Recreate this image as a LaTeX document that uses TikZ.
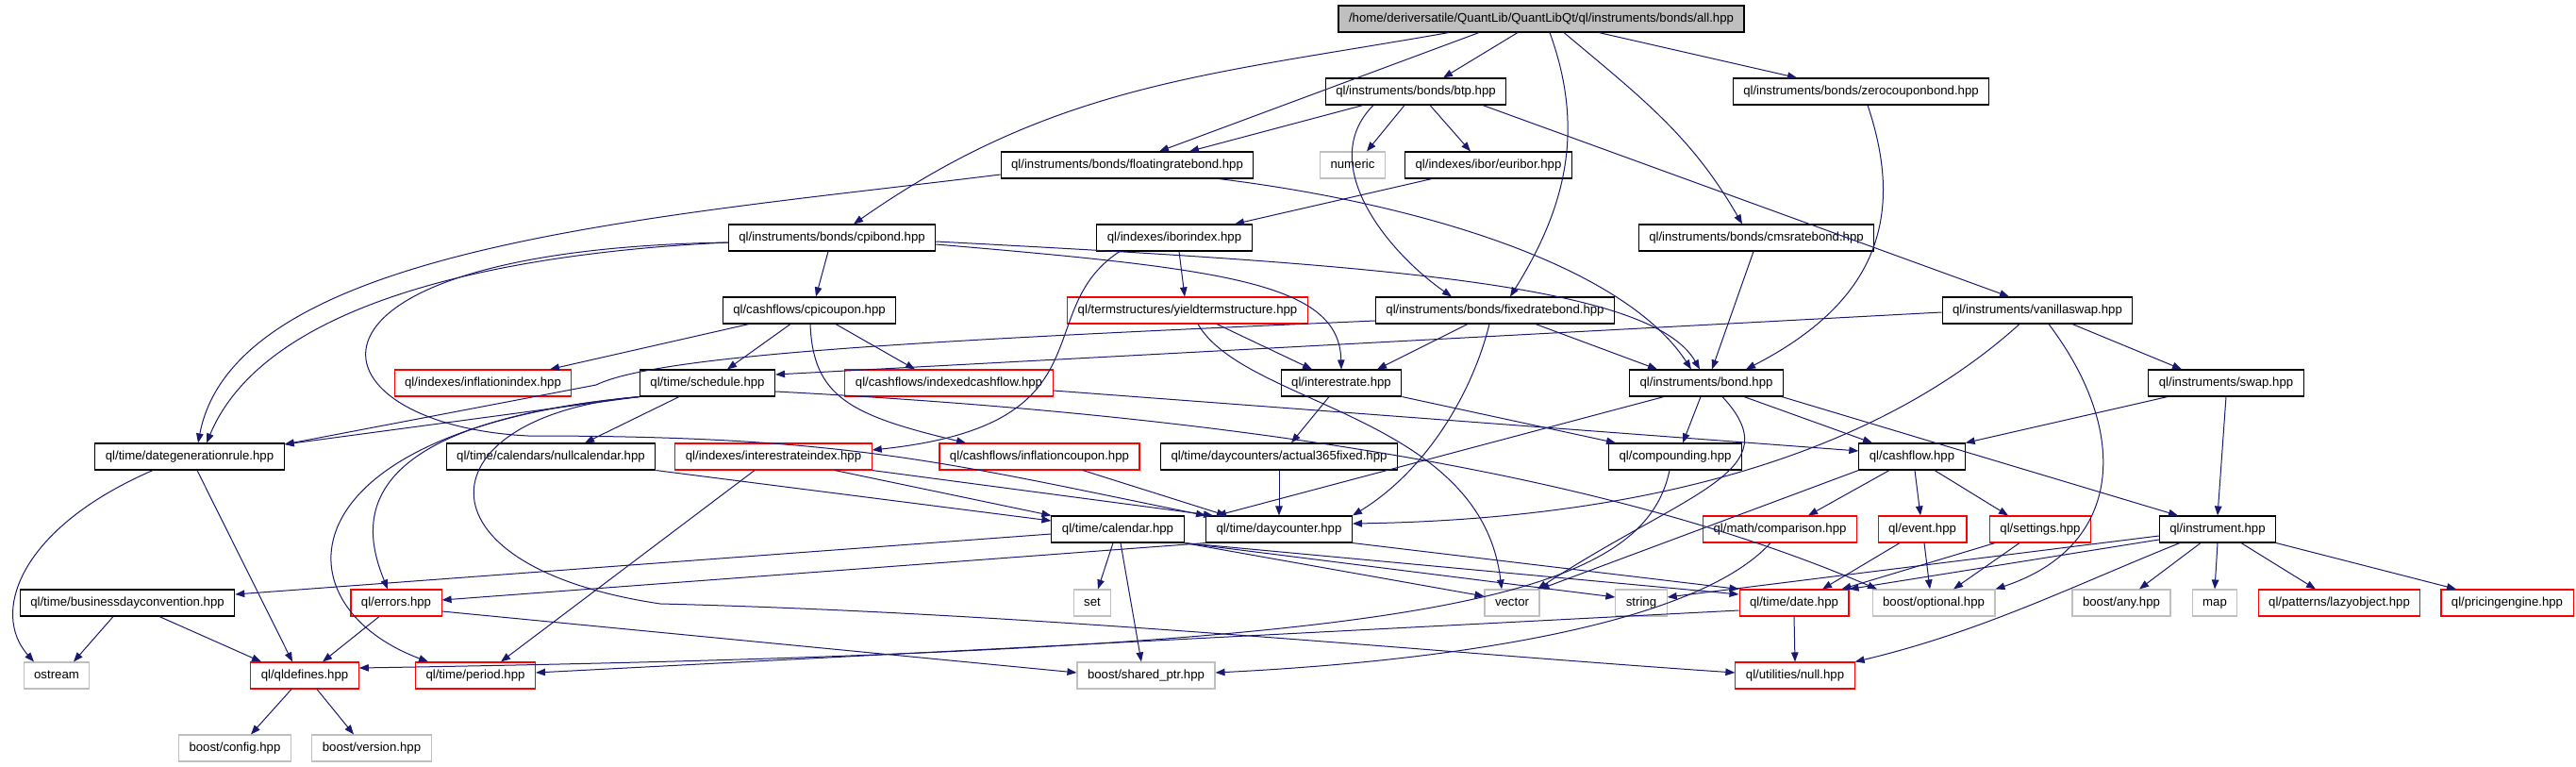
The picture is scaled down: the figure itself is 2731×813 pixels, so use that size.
\documentclass[tikz,border=0pt]{standalone}
\usepackage{fontspec}
\setmainfont{Liberation Sans}
\usetikzlibrary{arrows.meta}
\definecolor{edgeblue}{HTML}{191970}
\definecolor{truncred}{HTML}{FF0000}
\definecolor{sysgray}{HTML}{BFBFBF}

\begin{document}
\begin{tikzpicture}[x=1pt,y=-1pt,font=\fontsize{13.2}{15}\selectfont,
  box/.style={draw=black,line width=1.1pt,inner xsep=11pt,inner ysep=0pt,
    minimum height=28pt,text height=10pt,text depth=3pt},
  hdr/.style={box},
  trunc/.style={box,draw=truncred},
  sys/.style={box,draw=sysgray},
  root/.style={box,fill=sysgray},
  dep/.style={draw=edgeblue,line width=1pt,-{Triangle[length=10pt,width=7.5pt]}}]
  \useasboundingbox[fill=white] (0,0) rectangle (2731,813);

  \node[root] (all) at (1634,20) {/home/deriversatile/QuantLib/QuantLibQt/ql/instruments/bonds/all.hpp};

  \node[hdr] (btp) at (1501,97) {ql/instruments/bonds/btp.hpp};
  \node[hdr] (zcb) at (1973,97) {ql/instruments/bonds/zerocouponbond.hpp};

  \node[hdr] (frb) at (1195,175) {ql/instruments/bonds/floatingratebond.hpp};
  \node[sys] (numeric) at (1434,175) {numeric};
  \node[hdr] (euribor) at (1578,175) {ql/indexes/ibor/euribor.hpp};

  \node[hdr] (cpibond) at (882,252) {ql/instruments/bonds/cpibond.hpp};
  \node[hdr] (ibor) at (1245,252) {ql/indexes/iborindex.hpp};
  \node[hdr] (cms) at (1862,252) {ql/instruments/bonds/cmsratebond.hpp};

  \node[hdr] (cpicoupon) at (858,329) {ql/cashflows/cpicoupon.hpp};
  \node[trunc] (yts) at (1259,329) {ql/termstructures/yieldtermstructure.hpp};
  \node[hdr] (fixed) at (1585,329) {ql/instruments/bonds/fixedratebond.hpp};
  \node[hdr] (vanilla) at (2160,329) {ql/instruments/vanillaswap.hpp};

  \node[trunc] (inflidx) at (512,406) {ql/indexes/inflationindex.hpp};
  \node[hdr] (schedule) at (750,406) {ql/time/schedule.hpp};
  \node[trunc] (idxcf) at (1006,406) {ql/cashflows/indexedcashflow.hpp};
  \node[hdr] (irate) at (1422,406) {ql/interestrate.hpp};
  \node[hdr] (bond) at (1809,406) {ql/instruments/bond.hpp};
  \node[hdr] (swap) at (2360,406) {ql/instruments/swap.hpp};

  \node[hdr] (dgr) at (201,484) {ql/time/dategenerationrule.hpp};
  \node[hdr] (nullcal) at (584,484) {ql/time/calendars/nullcalendar.hpp};
  \node[trunc] (iridx) at (820,484) {ql/indexes/interestrateindex.hpp};
  \node[trunc] (inflcpn) at (1102,484) {ql/cashflows/inflationcoupon.hpp};
  \node[hdr] (act365) at (1356,484) {ql/time/daycounters/actual365fixed.hpp};
  \node[hdr] (compounding) at (1776,484) {ql/compounding.hpp};
  \node[hdr] (cashflow) at (2027,484) {ql/cashflow.hpp};

  \node[hdr] (calendar) at (1185,561) {ql/time/calendar.hpp};
  \node[hdr] (daycounter) at (1356,561) {ql/time/daycounter.hpp};
  \node[trunc] (comparison) at (1887,561) {ql/math/comparison.hpp};
  \node[trunc] (event) at (2038,561) {ql/event.hpp};
  \node[trunc] (settings) at (2163,561) {ql/settings.hpp};
  \node[hdr] (instrument) at (2351,561) {ql/instrument.hpp};

  \node[hdr] (bdc) at (135,639) {ql/time/businessdayconvention.hpp};
  \node[trunc] (errors) at (420,639) {ql/errors.hpp};
  \node[sys] (set) at (1158,639) {set};
  \node[sys] (vector) at (1603,639) {vector};
  \node[sys] (string) at (1740,639) {string};
  \node[trunc] (date) at (1902,639) {ql/time/date.hpp};
  \node[sys] (optional) at (2050,639) {boost/optional.hpp};
  \node[sys] (any) at (2249,639) {boost/any.hpp};
  \node[sys] (map) at (2348,639) {map};
  \node[trunc] (lazy) at (2480,639) {ql/patterns/lazyobject.hpp};
  \node[trunc] (pe) at (2658,639) {ql/pricingengine.hpp};

  \node[sys] (ostream) at (60,716) {ostream};
  \node[trunc] (qldefines) at (323,716) {ql/qldefines.hpp};
  \node[trunc] (period) at (504,716) {ql/time/period.hpp};
  \node[sys] (sptr) at (1215,716) {boost/shared\_ptr.hpp};
  \node[trunc] (null) at (1903,716) {ql/utilities/null.hpp};

  \node[sys] (config) at (249,793) {boost/config.hpp};
  \node[sys] (version) at (394,793) {boost/version.hpp};

  \draw[dep] ([xshift=-25pt]all.south) -- ([xshift=29pt]btp.north);
  \draw[dep] ([xshift=61pt]all.south) -- ([xshift=-68pt]zcb.north);
  \draw[dep] ([xshift=-66pt]all.south) -- ([xshift=34pt]frb.north);
  \draw[dep] ([xshift=-98pt]all.south) to[out=190,in=35] ([xshift=23pt]cpibond.north);
  \draw[dep] ([xshift=9pt]all.south) to[out=-70,in=58] ([xshift=16pt]fixed.north);
  \draw[dep] ([xshift=24pt]all.south) to[out=-40,in=120] ([xshift=-15pt]cms.north);

  \draw[dep] ([xshift=-56pt]btp.south) -- ([xshift=66pt]frb.north);
  \draw[dep] ([xshift=-12pt]btp.south) -- ([xshift=15pt]numeric.north);
  \draw[dep] ([xshift=15pt]btp.south) -- ([xshift=-19pt]euribor.north);
  \draw[dep] ([xshift=-45pt]btp.south) to[out=-135,in=145] ([xshift=-46pt]fixed.north);
  \draw[dep] ([xshift=71pt]btp.south) -- ([xshift=-30pt]vanilla.north);
  \draw[dep] ([xshift=7pt]zcb.south) .. controls (2020,230) and (1990,320) .. ([xshift=42pt]bond.north);

  \draw[dep] ([yshift=-10pt]frb.west) .. controls (700,230) and (250,260) .. ([xshift=9pt]dgr.north);
  \draw[dep] ([xshift=97pt]frb.south) .. controls (1500,215) and (1720,280) .. ([xshift=-16pt]bond.north);
  \draw[dep] ([xshift=-60pt]euribor.south) -- ([xshift=64pt]ibor.north);

  \draw[dep] ([xshift=-4pt]cpibond.south) -- ([xshift=7pt]cpicoupon.north);
  \draw[dep] ([yshift=-5pt]cpibond.west) .. controls (600,265) and (290,300) .. ([xshift=18pt]dgr.north);
  \draw[dep] ([yshift=-5pt]cpibond.west) .. controls (280,265) and (320,450) .. (560,462)
    .. controls (900,462) and (1000,490) .. (daycounter.north west);
  \draw[dep] ([yshift=-7pt]cpibond.east) .. controls (1300,285) and (1420,300) .. (irate.north);
  \draw[dep] ([yshift=-4pt]cpibond.east) .. controls (1450,280) and (1750,300) .. ([xshift=-7pt]bond.north);

  \draw[dep] ([xshift=5pt]ibor.south) -- ([xshift=-3pt]yts.north);
  \draw[dep] ([xshift=-58pt]ibor.south) .. controls (1090,330) and (1180,450) .. ([yshift=7pt]iridx.east);
  \draw[dep] ([xshift=-3pt]cms.south) -- ([xshift=6pt]bond.north);

  \draw[dep] ([xshift=-64pt]cpicoupon.south) -- ([xshift=71pt]inflidx.north);
  \draw[dep] ([xshift=-20pt]cpicoupon.south) -- ([xshift=21pt]schedule.north);
  \draw[dep] ([xshift=28pt]cpicoupon.south) -- ([xshift=-36pt]idxcf.north);
  \draw[dep] ([xshift=1pt]cpicoupon.south) .. controls (862,420) and (900,440) .. ([xshift=-78pt]inflcpn.north);
  \draw[dep] ([xshift=31pt]yts.south) -- ([xshift=-31pt]irate.north);
  \draw[dep] ([xshift=11pt]yts.south) .. controls (1320,430) and (1570,440) .. ([xshift=-11pt]vector.north);

  \draw[dep] ([xshift=-29pt]fixed.south) -- ([xshift=38pt]irate.north);
  \draw[dep] ([xshift=43pt]fixed.south) -- ([xshift=-52pt]bond.north);
  \draw[dep] ([xshift=-6pt]fixed.south) .. controls (1560,420) and (1510,500) .. (daycounter.north east);
  \draw[dep] ([yshift=-11pt]fixed.west) .. controls (1000,360) and (700,375) .. (632,408)
    -- ([yshift=13pt]dgr.east);

  \draw[dep] ([yshift=-2pt]vanilla.west) -- ([yshift=9pt]schedule.east);
  \draw[dep] ([xshift=37pt]vanilla.south) -- ([xshift=-47pt]swap.north);
  \draw[dep] ([xshift=-19pt]vanilla.south) .. controls (1990,480) and (1750,550) .. ([yshift=6pt]daycounter.east);
  \draw[dep] ([xshift=12pt]vanilla.south) .. controls (2260,460) and (2250,580) .. (optional.north east);

  \draw[dep] (schedule.south west) -- ([yshift=13pt]dgr.east);
  \draw[dep] ([xshift=-30pt]schedule.south) -- ([xshift=36pt]nullcal.north);
  \draw[dep] (schedule.south west) .. controls (360,450) and (385,560) .. ([xshift=-9pt]errors.north);
  \draw[dep] (schedule.south west) .. controls (300,455) and (290,640) .. ([xshift=-50pt]period.north);
  \draw[dep] (schedule.south west) .. controls (450,440) and (430,600) .. (700,640)
    .. controls (1100,650) and (1500,690) .. ([yshift=3pt]null.west);
  \draw[dep] ([yshift=-9pt]schedule.east) .. controls (1300,440) and (1700,500) .. ([xshift=-60pt]optional.north);
  \draw[dep] ([yshift=-8pt]idxcf.east) -- ([yshift=6pt]cashflow.west);

  \draw[dep] ([xshift=-13pt]irate.south) -- ([xshift=13pt]act365.north);
  \draw[dep] (irate.south east) -- ([xshift=-63pt]compounding.north);
  \draw[dep] ([xshift=-6pt]bond.south) -- ([xshift=8pt]compounding.north);
  \draw[dep] ([xshift=40pt]bond.south) -- ([xshift=-42pt]cashflow.north);
  \draw[dep] ([xshift=80pt]bond.south) -- ([xshift=-42pt]instrument.north);
  \draw[dep] ([xshift=17pt]bond.south) .. controls (1900,500) and (1790,520) .. ([xshift=27pt]vector.north);
  \draw[dep] ([xshift=-45pt]bond.south) -- ([xshift=-66pt]daycounter.north);
  \draw[dep] ([xshift=-62pt]swap.south) -- (cashflow.north east);
  \draw[dep] (swap.south) -- (instrument.north);

  \draw[dep] ([xshift=-39pt]dgr.south) .. controls (20,560) and (-10,650) .. ([xshift=-24pt]ostream.north);
  \draw[dep] ([xshift=8pt]dgr.south) -- ([xshift=-13pt]qldefines.north);
  \draw[dep] (nullcal.south east) -- ([yshift=9pt]calendar.west);
  \draw[dep] ([xshift=65pt]iridx.south) -- (calendar.north west);
  \draw[dep] (iridx.south east) -- ([xshift=-70pt]daycounter.north);
  \draw[dep] ([xshift=-20pt]iridx.south) -- ([xshift=27pt]period.north);
  \draw[dep] ([xshift=46pt]inflcpn.south) -- ([xshift=-56pt]daycounter.north);
  \draw[dep] (act365.south) -- (daycounter.north);
  \draw[dep] ([xshift=-6pt]compounding.south) .. controls (1740,640) and (1500,690) .. ([yshift=8pt]qldefines.east);

  \draw[dep] ([xshift=-24pt]cashflow.south) -- ([xshift=30pt]comparison.north);
  \draw[dep] ([xshift=3pt]cashflow.south) -- ([xshift=-2pt]event.north);
  \draw[dep] ([xshift=24pt]cashflow.south) -- ([xshift=-34pt]settings.north);
  \draw[dep] (cashflow.south west) -- (vector.north east);

  \draw[dep] ([yshift=-5pt]calendar.west) -- ([yshift=9pt]bdc.east);
  \draw[dep] ([xshift=-5pt]calendar.south) -- ([xshift=6pt]set.north);
  \draw[dep] ([xshift=3pt]calendar.south) -- ([xshift=-5pt]sptr.north);
  \draw[dep] (calendar.south east) -- ([yshift=7pt]vector.west);
  \draw[dep] (calendar.south east) -- ([yshift=6pt]string.west);
  \draw[dep] (calendar.south east) -- ([yshift=9pt]date.west);
  \draw[dep] (daycounter.south west) -- ([yshift=3pt]errors.east);
  \draw[dep] (daycounter.south east) -- (date.north west);
  \draw[dep] ([xshift=-10pt]comparison.south) .. controls (1800,660) and (1550,700) .. ([yshift=3pt]sptr.east);
  \draw[dep] ([xshift=-24pt]event.south) -- ([xshift=30pt]date.north);
  \draw[dep] ([xshift=2pt]event.south) -- ([xshift=-4pt]optional.north);
  \draw[dep] ([xshift=-48pt]settings.south) -- ([xshift=-8pt]date.north east);
  \draw[dep] ([xshift=-22pt]settings.south) -- ([xshift=21pt]optional.north);

  \draw[dep] ([yshift=-7pt]instrument.west) -- ([yshift=6pt]string.east);
  \draw[dep] ([yshift=-11pt]instrument.west) -- (date.north east);
  \draw[dep] ([xshift=-40pt]instrument.south) .. controls (2200,620) and (2100,670) .. (null.north east);
  \draw[dep] ([xshift=-18pt]instrument.south) -- ([xshift=19pt]any.north);
  \draw[dep] (instrument.south) -- (map.north);
  \draw[dep] ([xshift=25pt]instrument.south) -- ([xshift=-25pt]lazy.north);
  \draw[dep] (instrument.south east) -- ([xshift=-54pt]pe.north);

  \draw[dep] ([xshift=-15pt]bdc.south) -- ([xshift=18pt]ostream.north);
  \draw[dep] ([xshift=34pt]bdc.south) -- ([xshift=-46pt]qldefines.north);
  \draw[dep] ([xshift=-18pt]errors.south) -- ([xshift=19pt]qldefines.north);
  \draw[dep] ([yshift=-9pt]errors.east) -- ([yshift=3pt]sptr.west);
  \draw[dep] ([yshift=-8pt]date.west) -- ([yshift=3pt]period.east);
  \draw[dep] (date.south) -- (null.north);
  \draw[dep] ([xshift=-14pt]qldefines.south) -- ([xshift=17pt]config.north);
  \draw[dep] ([xshift=13pt]qldefines.south) -- ([xshift=-19pt]version.north);
\end{tikzpicture}
\end{document}
